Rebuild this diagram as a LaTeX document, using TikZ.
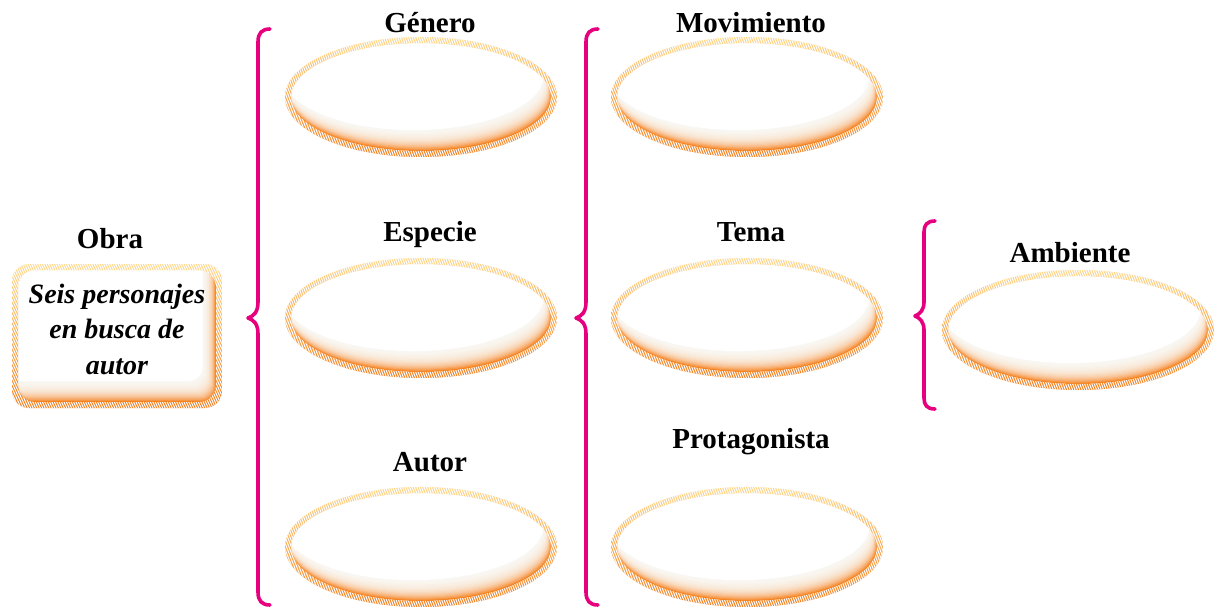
\documentclass[tikz,border=0pt]{standalone}
\usepackage{fontspec}
\setmainfont{Liberation Serif}
\usetikzlibrary{shapes.geometric}
\definecolor{hatchtop}{HTML}{FFD98C}
\definecolor{hatchmid}{HTML}{FDC56E}
\definecolor{hatchbot}{HTML}{F07A1A}
\definecolor{glowc}{HTML}{F5821F}
\definecolor{bracec}{HTML}{E6007E}
\tikzset{
  lbl/.style={font=\fontsize{29}{32}\selectfont\bfseries, anchor=base, inner sep=0},
  bracestyle/.style={draw=bracec, line width=3.6pt, line cap=round, line join=round},
  hatchline/.style={white, line width=1.0pt},
  glowlayer/.style={white, opacity=0.16},
}
\newcommand\ovalbox[3]{%
  \node[draw=none, ellipse, minimum width=272pt, minimum height=120pt, inner sep=0] (#1) at (#2,#3) {};
  \begin{scope}
    \clip (#2,#3) ellipse [x radius=130, y radius=54];
    \fill[glowc] (#2,#3) ellipse [x radius=131, y radius=55];
    \foreach \k in {1,...,18} \fill[glowlayer] (#2-0.4*\k,#3-1.1*\k) ellipse [x radius=130, y radius=54];
    \fill[white] (#2-7.6,#3-20.9) ellipse [x radius=130, y radius=54];
  \end{scope}
  \begin{scope}[even odd rule]
    \clip (#2,#3) ellipse [x radius=136, y radius=60] (#2,#3) ellipse [x radius=130, y radius=54];
    \shade[top color=hatchtop, middle color=hatchmid, bottom color=hatchbot] (#2-140,#3-64) rectangle (#2+140,#3+64);
    \foreach \i in {-75,...,75} \draw[hatchline] (#2+2.4*\i-25,#3-64) -- (#2+2.4*\i+25,#3+64);
  \end{scope}
}
\begin{document}
\begin{tikzpicture}[x=1pt,y=-1pt]
\useasboundingbox (0,0) rectangle (1218,607);
% left rounded box
\node[draw=none, rectangle, rounded corners=20pt, minimum width=210pt, minimum height=144pt, inner sep=0] (obrabox) at (117,336) {};
\begin{scope}
  \clip[rounded corners=14pt] (18,270) rectangle (216,402);
  \fill[glowc] (18,270) rectangle (216,402);
  \foreach \k in {1,...,18} \fill[glowlayer, rounded corners=14pt] (18-0.7*\k,270-1.1*\k) rectangle (216-0.7*\k,402-1.1*\k);
  \fill[white, rounded corners=14pt] (4.7,249.1) rectangle (202.7,381.1);
\end{scope}
\begin{scope}[even odd rule]
  \clip[rounded corners=17pt] (12,264) rectangle (222,408) (18,270) rectangle (216,402);
  \shade[top color=hatchtop, middle color=hatchmid, bottom color=hatchbot] (10,262) rectangle (224,410);
  \foreach \i in {-10,...,105} \draw[hatchline] (2.4*\i-35,260) -- (2.4*\i+35,412);
\end{scope}
\node[font=\fontsize{28}{35.5}\selectfont\bfseries\itshape, align=center, inner sep=0] (obratext) at (117,329) {Seis personajes\\en busca de\\autor};

% ellipses
\ovalbox{genero}{421}{97}
\ovalbox{especie}{421}{318}
\ovalbox{autor}{421}{547}
\ovalbox{movimiento}{747}{97}
\ovalbox{tema}{747}{318}
\ovalbox{protagonista}{747}{547}
\ovalbox{ambiente}{1078}{330}

% labels
\node[lbl] (lobra) at (110,248) {Obra};
\node[lbl] (lgenero) at (430,33) {Género};
\node[lbl] (lespecie) at (430,241) {Especie};
\node[lbl] (lautor) at (430,471) {Autor};
\node[lbl] (lmov) at (751,33) {Movimiento};
\node[lbl] (ltema) at (751,241) {Tema};
\node[lbl] (lprot) at (751,448) {Protagonista};
\node[lbl] (lamb) at (1070,262) {Ambiente};

% braces
\draw[bracestyle] (270,29) .. controls (262,29) and (258,33) .. (258,42) -- (258,302) .. controls (258,312) and (254,316) .. (248,318) .. controls (254,320) and (258,324) .. (258,334) -- (258,592) .. controls (258,601) and (262,605) .. (270,605);
\draw[bracestyle] (598,29) .. controls (590,29) and (586,33) .. (586,42) -- (586,302) .. controls (586,312) and (582,316) .. (576,318) .. controls (582,320) and (586,324) .. (586,334) -- (586,592) .. controls (586,601) and (590,605) .. (598,605);
\draw[bracestyle] (935,221) .. controls (927,221) and (924,225) .. (924,232) -- (924,302) .. controls (924,310) and (920,314) .. (915,316) .. controls (920,318) and (924,322) .. (924,330) -- (924,398) .. controls (924,405) and (927,409) .. (935,409);
\end{tikzpicture}
\end{document}
